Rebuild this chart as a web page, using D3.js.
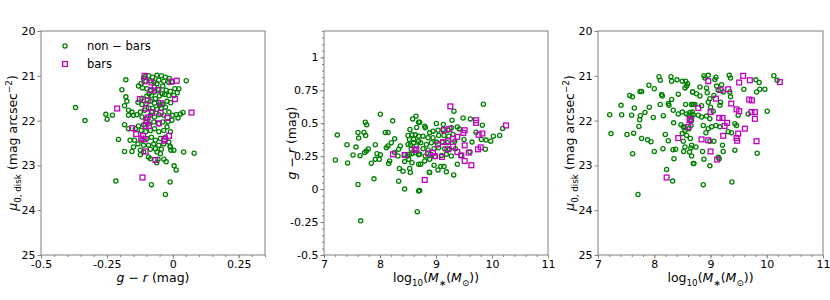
<!DOCTYPE html>
<html><head><meta charset="utf-8">
<script src="https://cdn.jsdelivr.net/npm/d3@7"></script>
<style>html,body{margin:0;padding:0;background:#fff;}svg{display:block;font-family:"DejaVu Sans",sans-serif;}</style>
</head><body>
<svg id="c" width="830" height="300"></svg>
<script>
// ---------- data ----------
const seriesNames = ["non − bars", "bars"];

// panel 1 : g-r (x) vs mu0,disk (y)
const p1NonX = [-0.369,-0.333,-0.178,0.051,-0.193,-0.178,-0.174,-0.254,-0.249,-0.229,-0.183,-0.168,-0.168,-0.155,-0.149,-0.183,-0.168,-0.206,-0.183,-0.155,-0.149,-0.145,-0.162,-0.123,-0.123,-0.111,-0.092,-0.085,-0.060,-0.056,-0.034,-0.025,-0.007,-0.010,-0.047,0.041,0.081,-0.061,0.005,0.013,-0.216,-0.081,-0.010,-0.028,0.039,
 -0.111,-0.092,-0.077,-0.060,-0.043,-0.028,-0.013,-0.003,-0.015,-0.034,-0.053,-0.071,-0.085,-0.102,-0.120,-0.130,-0.115,-0.098,-0.085,-0.070,-0.053,-0.038,-0.025,-0.009,0.008,0.017,0.023,0.004,-0.015,-0.031,-0.051,-0.066,-0.081,-0.098,-0.117,-0.132,-0.117,-0.102,-0.085,-0.069,-0.053,-0.038,-0.022,-0.008,-0.028,-0.043,-0.060,-0.076,-0.092,-0.107,-0.123,-0.136,-0.117,-0.102,-0.085,-0.069,-0.053,-0.034,-0.015,0.000,0.013,0.029,0.020,-0.003,-0.018,-0.038,-0.053,-0.072,-0.092,-0.111,-0.130,-0.142,-0.120,-0.102,-0.085,-0.069,-0.053,-0.034,-0.022,-0.009,-0.028,-0.047,-0.066,-0.081,-0.098,-0.117,-0.132,-0.111,-0.092,-0.072,-0.053,-0.034,-0.015,-0.009,0.004,-0.043,-0.066,-0.085,
 -0.105,-0.060,-0.040,-0.070,-0.090,-0.050,-0.080];
const p1NonY = [21.71,22.00,21.09,21.11,21.31,21.47,21.57,21.86,21.97,21.88,21.67,21.77,21.88,21.81,21.88,22.09,22.18,22.42,22.69,22.69,22.59,22.44,22.44,22.66,22.76,22.70,22.81,22.85,22.70,22.86,22.86,22.92,22.66,22.57,22.74,22.70,22.73,22.94,23.01,23.10,23.35,23.43,23.37,23.65,21.82,
 21.05,21.00,21.03,20.99,21.00,21.03,21.06,21.14,21.15,21.12,21.10,21.14,21.11,21.12,21.17,21.23,21.27,21.29,21.33,21.36,21.30,21.23,21.32,21.35,21.29,21.38,21.29,21.44,21.44,21.42,21.45,21.51,21.44,21.45,21.50,21.59,21.64,21.62,21.57,21.61,21.59,21.64,21.57,21.60,21.70,21.73,21.75,21.73,21.72,21.77,21.81,21.87,21.92,21.96,21.88,21.92,21.87,21.88,21.81,21.88,21.87,21.85,21.94,21.99,22.02,22.03,22.07,22.03,22.07,22.09,22.12,22.18,22.22,22.25,22.22,22.18,22.25,22.22,22.14,22.25,22.37,22.40,22.44,22.37,22.40,22.44,22.52,22.55,22.55,22.52,22.55,22.52,22.48,22.59,22.66,22.64,22.63,22.64,
 21.02,21.18,21.40,21.25,21.40,21.65,21.80];
const p1BarX = [-0.107,-0.107,-0.081,-0.058,-0.083,-0.005,0.015,0.008,-0.125,-0.095,-0.211,-0.102,-0.078,-0.046,-0.020,0.071,-0.095,-0.100,-0.090,-0.154,-0.139,-0.103,-0.033,-0.030,-0.113,-0.120,-0.107,-0.053,-0.014,-0.066,-0.103,-0.115,-0.046];
const p1BarY = [21.00,21.12,21.15,21.32,21.32,21.13,21.11,21.52,21.52,21.55,21.73,21.73,21.82,21.82,21.94,21.82,21.93,21.99,22.12,22.17,22.30,22.12,22.45,22.41,22.34,22.40,22.42,22.06,22.34,22.88,22.69,23.27,21.61];

// panel 2 : log10 M* (x) vs g-r (y)
const p2NonX = [8.006,8.226,7.738,7.762,7.238,7.607,7.619,7.714,7.744,7.410,7.571,7.518,7.643,7.202,7.422,7.726,7.756,7.791,7.916,7.946,8.006,7.916,7.988,7.845,8.113,8.143,8.095,8.143,8.173,8.155,8.202,8.262,8.262,8.333,8.363,8.321,8.345,8.411,8.440,7.893,7.607,8.333,8.440,7.655,8.666,8.690,8.708,8.530,8.542,8.571,8.690,
 8.583,8.643,8.690,8.535,8.654,8.500,8.571,8.631,8.690,8.524,8.601,8.690,8.500,8.541,8.601,8.649,8.559,8.524,8.571,8.631,8.690,8.440,8.488,8.512,
 9.846,9.321,9.286,9.483,9.614,9.828,9.006,9.131,10.191,10.137,10.024,9.977,9.893,9.810,9.715,9.643,9.881,9.608,9.441,9.381,9.274,8.798,9.500,9.417,9.381,8.965,9.084,9.143,9.036,8.887,9.185,9.316,8.880,
 8.709,8.810,8.887,8.947,9.036,9.125,9.215,9.274,8.768,8.858,8.947,9.048,9.143,9.227,9.304,8.727,8.828,8.917,9.006,9.108,9.203,9.334,8.768,8.858,8.965,9.048,9.155,9.244,9.346,8.709,8.810,8.905,8.989,9.096,9.185,8.798,8.887,8.727];
const p2NonY = [0.568,0.518,0.508,0.488,0.410,0.430,0.387,0.430,0.407,0.337,0.319,0.259,0.254,0.221,0.199,0.277,0.289,0.304,0.337,0.269,0.261,0.226,0.226,0.196,0.314,0.327,0.430,0.430,0.214,0.194,0.352,0.382,0.277,0.302,0.327,0.251,0.156,0.136,0.209,0.078,0.035,0.060,0.000,-0.241,-0.171,-0.015,-0.010,0.156,0.126,0.201,0.189,
 0.533,0.553,0.508,0.452,0.468,0.407,0.412,0.412,0.402,0.377,0.377,0.364,0.339,0.332,0.352,0.327,0.302,0.264,0.269,0.277,0.261,0.261,0.251,0.226,
 0.644,0.591,0.523,0.540,0.533,0.485,0.498,0.490,0.460,0.407,0.402,0.364,0.372,0.377,0.432,0.357,0.302,0.282,0.256,0.189,0.251,0.478,0.377,0.457,0.472,0.181,0.171,0.171,0.146,0.126,0.131,0.108,0.128,
 0.508,0.465,0.427,0.440,0.447,0.452,0.447,0.465,0.402,0.390,0.390,0.407,0.407,0.402,0.415,0.352,0.339,0.352,0.357,0.357,0.352,0.364,0.307,0.297,0.307,0.314,0.307,0.302,0.307,0.264,0.251,0.264,0.246,0.256,0.264,0.214,0.226,0.189];
const p2BarX = [8.232,8.440,8.619,8.649,9.256,9.715,9.715,10.250,9.143,9.238,9.512,9.488,9.381,9.304,9.215,9.125,9.762,9.828,9.036,9.203,9.304,9.381,9.512,9.798,9.750,8.858,8.947,8.977,9.108,9.453,9.584,9.512,9.631,8.798];
const p2BarY = [0.264,0.259,0.297,0.302,0.628,0.523,0.503,0.483,0.447,0.457,0.447,0.427,0.397,0.382,0.364,0.357,0.412,0.422,0.339,0.302,0.322,0.282,0.332,0.317,0.302,0.271,0.277,0.251,0.244,0.256,0.277,0.214,0.181,0.070];

// panel 3 : log10 M* (x) vs mu0,disk (y)
const p3NonX = [8.084,8.107,8.297,8.309,8.404,8.498,8.557,8.593,8.546,8.575,7.906,8.001,7.746,7.776,7.563,7.610,8.131,8.143,8.427,8.682,8.309,7.409,7.646,7.912,8.107,8.250,8.262,8.557,8.664,8.694,7.208,7.421,7.598,7.752,7.740,7.835,7.983,8.161,8.338,8.427,8.498,8.575,8.634,8.676,8.344,7.728,7.231,7.515,7.634,7.776,7.882,7.941,8.196,8.250,8.498,8.546,8.575,8.516,8.641,7.616,8.001,8.155,8.333,8.380,8.522,8.546,8.628,8.652,8.350,8.220,8.327,7.711,8.694,8.475,8.516,8.546,8.616,8.652,8.616,8.664,
 8.883,8.900,8.960,9.096,9.078,9.333,9.356,9.806,9.866,10.126,10.185,8.681,8.752,8.812,8.812,8.930,8.942,8.989,9.060,9.108,9.137,9.197,9.226,9.344,9.356,9.593,9.818,9.877,9.966,8.664,8.723,8.841,8.960,9.001,9.048,9.167,9.179,8.693,8.782,8.841,8.930,8.989,8.664,8.871,8.960,9.019,9.096,9.167,8.918,9.315,9.374,9.433,9.463,9.492,9.670,10.008,8.664,8.741,8.859,8.989,9.060,9.214,9.226,9.433,8.664,8.705,8.883,8.989,9.155,9.830,9.380,8.871,9.140];
const p3NonY = [21.02,21.10,21.02,21.12,21.09,21.12,21.12,21.18,21.27,21.23,21.21,21.29,21.35,21.35,21.44,21.47,21.42,21.45,21.41,21.36,21.53,21.66,21.72,21.70,21.64,21.62,21.66,21.64,21.64,21.64,21.87,21.87,21.88,21.89,21.98,21.82,21.93,21.89,21.77,21.85,21.81,21.85,21.82,21.81,22.05,22.13,22.29,22.31,22.28,22.40,22.43,22.47,22.31,22.45,22.29,22.22,22.33,22.46,22.40,22.74,22.69,22.63,22.65,22.64,22.69,22.59,22.70,22.61,22.85,23.09,23.35,23.65,22.96,22.09,22.14,22.16,22.18,22.11,21.88,21.92,
 21.00,21.05,20.99,21.03,21.08,20.99,21.05,21.09,21.15,21.00,21.10,21.36,21.40,21.25,21.45,21.27,21.38,21.51,21.44,21.23,21.32,21.20,21.36,21.36,21.47,21.30,21.36,21.30,21.30,21.64,21.64,21.67,21.59,21.70,21.79,21.66,21.59,21.87,21.88,21.92,21.90,21.96,21.99,22.11,22.18,22.14,22.11,22.14,22.27,22.25,22.27,22.07,22.11,21.88,21.85,21.79,22.55,22.59,22.69,22.46,22.46,22.55,22.69,22.66,22.79,22.96,22.86,23.01,22.85,22.73,23.37,23.43,22.82];
const p3BarX = [8.628,8.605,8.427,8.220,8.960,9.179,9.315,9.581,9.510,9.700,10.233,9.096,9.368,8.782,9.463,9.510,9.688,9.735,9.729,9.789,9.001,9.155,9.214,8.646,9.297,9.250,9.789,9.611,9.226,8.841,8.960,9.492,9.463,9.475,9.818,9.001,9.119];
const p3BarY = [21.99,22.14,22.39,23.27,21.12,21.32,21.30,21.00,21.15,21.10,21.14,21.51,21.62,21.72,21.75,21.79,21.53,21.55,21.81,21.81,21.81,21.94,21.94,21.97,22.05,22.12,21.96,22.18,22.34,22.42,22.44,22.29,22.39,22.45,22.46,22.69,22.87];

// ticks
const muTicks = [20, 21, 22, 23, 24, 25];
const grXTicks = [-0.5, -0.25, 0, 0.25];
const grXTickLabels = ["-0.5", "-0.25", "0", "0.25"];
const massTicks = [7, 8, 9, 10, 11];
const grYTicks = [-0.5, -0.25, 0, 0.25, 0.5, 0.75, 1];
const grYTickLabels = ["-0.5", "-0.25", "0", "0.25", "0.5", "0.75", "1"];

// ---------- drawing ----------
const svg = d3.select("#c");
const GREEN = "#008000", MAG = "#bf00bf", FRAME = "#808080";

function rich(textSel, parts, fs) {
  let cur = 0;
  parts.forEach(p => {
    const off = p.sub ? fs * 0.3 : (p.sup ? -fs * 0.4 : 0);
    const ts = textSel.append("tspan").text(p.t)
      .attr("font-size", (p.sub || p.sup) ? fs * 0.7 : fs)
      .attr("dy", off - cur);
    if (p.it) ts.attr("font-style", "italic");
    cur = off;
  });
}

const muLabel = [{t:"μ", it:true},{t:"0, disk", sub:true},{t:" (mag arcsec"},{t:"−2", sup:true},{t:")"}];
const grLabel = [{t:"g", it:true},{t:" − "},{t:"r", it:true},{t:" (mag)"}];
const mLabel = [{t:"log"},{t:"10", sub:true},{t:"("},{t:"M", it:true},{t:"∗", sub:true},{t:"("},{t:"M", it:true},{t:"⊙", sub:true},{t:"))"}];

function panel(cfg) {
  const g = svg.append("g");
  const x = d3.scaleLinear().domain(cfg.xd).range([cfg.l, cfg.r]);
  const y = d3.scaleLinear().domain(cfg.yd).range([cfg.b, cfg.t]);
  const xa = d3.axisBottom(x).tickValues(d3.range(cfg.xd[0], cfg.xd[1] + 1e-9, cfg.xminor)).tickSize(2).tickFormat("");
  const ya = d3.axisLeft(y).tickValues(d3.range(cfg.yd[0], cfg.yd[1] + 1e-9, cfg.yminor)).tickSize(2).tickFormat("");
  g.append("g").attr("transform", `translate(0,${cfg.b})`).call(xa);
  g.append("g").attr("transform", `translate(${cfg.l},0)`).call(ya);
  const xM = d3.axisBottom(x).tickValues(cfg.xt).tickSize(3.5).tickPadding(2).tickFormat((d, i) => cfg.xtl ? cfg.xtl[i] : String(d));
  const yM = d3.axisLeft(y).tickValues(cfg.yt).tickSize(3.5).tickPadding(2).tickFormat((d, i) => cfg.ytl ? cfg.ytl[i] : String(d));
  g.append("g").attr("transform", `translate(0,${cfg.b})`).call(xM);
  g.append("g").attr("transform", `translate(${cfg.l},0)`).call(yM);
  g.selectAll(".domain").remove();
  g.selectAll(".tick line").attr("stroke", FRAME).attr("stroke-width", 1);
  g.selectAll(".tick text").attr("font-family", "DejaVu Sans").attr("font-size", 11).attr("fill", "#000");
  g.append("rect").attr("x", cfg.l).attr("y", cfg.t).attr("width", cfg.r - cfg.l).attr("height", cfg.b - cfg.t)
    .attr("fill", "none").attr("stroke", FRAME).attr("stroke-width", 1);
  const clipId = "clip" + cfg.l;
  svg.append("clipPath").attr("id", clipId).append("rect").attr("x", cfg.l).attr("y", cfg.t).attr("width", cfg.r - cfg.l).attr("height", cfg.b - cfg.t);
  const pts = g.append("g").attr("clip-path", `url(#${clipId})`);
  pts.selectAll("circle").data(d3.zip(cfg.nx, cfg.ny)).join("circle")
    .attr("cx", d => x(d[0])).attr("cy", d => y(d[1])).attr("r", 2.1)
    .attr("fill", "none").attr("stroke", GREEN).attr("stroke-width", 1.3);
  pts.selectAll("rect").data(d3.zip(cfg.bx, cfg.by)).join("rect")
    .attr("x", d => x(d[0]) - 2.4).attr("y", d => y(d[1]) - 2.4).attr("width", 4.8).attr("height", 4.8)
    .attr("fill", "none").attr("stroke", MAG).attr("stroke-width", 1.3);
  const fs = 12.5;
  const xl = g.append("text").attr("x", (cfg.l + cfg.r) / 2).attr("y", cfg.b + 27).attr("text-anchor", "middle").attr("font-size", fs);
  rich(xl, cfg.xlab, fs);
  const yl = g.append("text").attr("transform", `translate(${cfg.ylx},${(cfg.t + cfg.b) / 2}) rotate(-90)`).attr("text-anchor", "middle").attr("font-size", fs);
  rich(yl, cfg.ylab, fs);
  return {g, x, y};
}

panel({l:41, r:265, t:31, b:255, xd:[-0.5, 0.35], yd:[25, 20], xminor:0.05, yminor:0.2,
  xt:grXTicks, xtl:grXTickLabels, yt:muTicks, nx:p1NonX, ny:p1NonY, bx:p1BarX, by:p1BarY,
  xlab:grLabel, ylab:muLabel, ylx:17});
panel({l:324, r:548, t:31, b:255, xd:[7, 11], yd:[-0.5, 1.2], xminor:0.2, yminor:0.05,
  xt:massTicks, yt:grYTicks, ytl:grYTickLabels, nx:p2NonX, ny:p2NonY, bx:p2BarX, by:p2BarY,
  xlab:mLabel, ylab:grLabel, ylx:296});
panel({l:598, r:823, t:31, b:255, xd:[7, 11], yd:[25, 20], xminor:0.2, yminor:0.2,
  xt:massTicks, yt:muTicks, nx:p3NonX, ny:p3NonY, bx:p3BarX, by:p3BarY,
  xlab:mLabel, ylab:muLabel, ylx:574});

// legend
const lg = svg.append("g");
lg.append("circle").attr("cx", 65).attr("cy", 46).attr("r", 2.1).attr("fill", "none").attr("stroke", GREEN).attr("stroke-width", 1.3);
lg.append("rect").attr("x", 62.6).attr("y", 61.6).attr("width", 4.8).attr("height", 4.8).attr("fill", "none").attr("stroke", MAG).attr("stroke-width", 1.3);
lg.append("text").attr("x", 87).attr("y", 50).attr("font-size", 11.5).text(seriesNames[0]);
lg.append("text").attr("x", 87).attr("y", 68).attr("font-size", 11.5).text(seriesNames[1]);
</script>
</body></html>
